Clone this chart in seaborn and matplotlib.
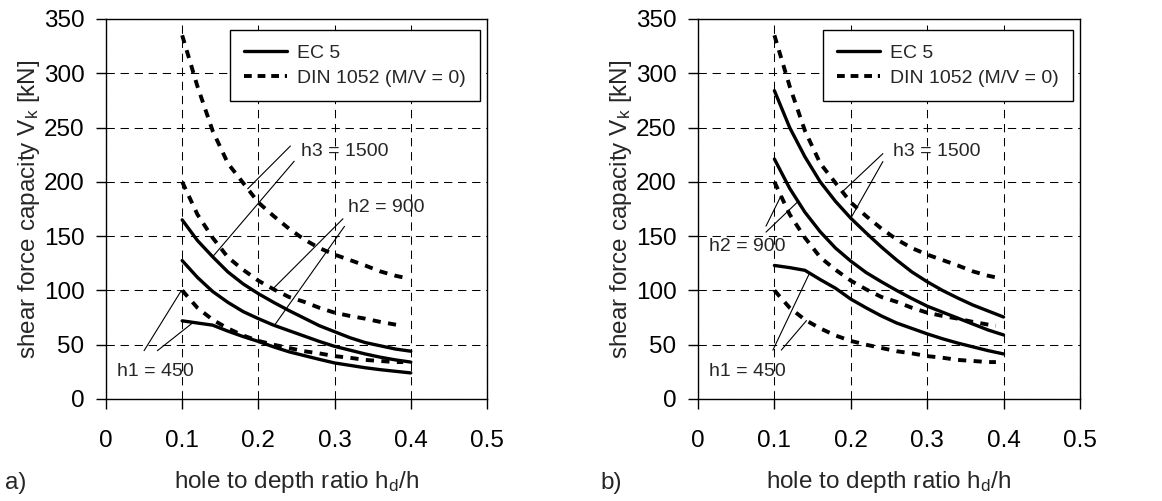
import numpy as np
import pandas as pd
import matplotlib
matplotlib.use("Agg")
import matplotlib.pyplot as plt
from matplotlib.lines import Line2D
import seaborn as sns

sns.set_style("ticks")
plt.rcParams['font.family'] = ['Liberation Sans', 'DejaVu Sans']
plt.rcParams['mathtext.fontset'] = 'custom'
plt.rcParams['mathtext.rm'] = 'Liberation Sans'
plt.rcParams['mathtext.default'] = 'regular'

# ---------------- data ----------------
x_ec5 = [0.10, 0.12, 0.14, 0.16, 0.18, 0.20, 0.22, 0.24, 0.26, 0.28,
         0.30, 0.32, 0.34, 0.36, 0.38, 0.40]
x_din = [0.10, 0.12, 0.14, 0.16, 0.18, 0.20, 0.22, 0.24, 0.26, 0.28,
         0.30, 0.32, 0.34, 0.36, 0.38, 0.39]

# panel a) EC 5
ec5_a_h1 = [72, 70, 68, 62.5, 57.5, 53, 48, 43.5, 40, 36.5, 33.2, 31, 28.8, 27, 25.5, 24]
ec5_a_h2 = [127.5, 112, 99, 89, 80.5, 74, 68, 63, 58, 53, 48.5, 45, 41.5, 38.5, 36, 34]
ec5_a_h3 = [165, 146, 131, 117, 106, 97, 89, 81.5, 74.5, 67.5, 62, 56.5, 52, 49, 46, 44]
# panel b) EC 5
ec5_b_h1 = [123, 121, 118.5, 110, 102, 92, 84, 76.5, 70, 65, 60, 55.5, 51.5, 48, 44.5, 41.5]
ec5_b_h2 = [221, 194, 172, 154, 139, 127, 116.5, 108, 100, 92.5, 85.5, 80, 74.5, 69, 63.5, 59]
ec5_b_h3 = [284, 250, 223, 200, 182, 166.5, 153, 140, 128, 117, 108, 100, 93, 86.5, 81, 75.5]
# DIN 1052 (M/V = 0), same in both panels
din_h1 = [100, 84, 73, 65, 58.5, 53.5, 50, 47, 44, 42, 39.5, 38, 36, 35, 34, 34]
din_h2 = [200, 170, 148.5, 130.5, 119, 109, 101, 94, 89.5, 84, 79.5, 76.5, 74, 71, 68.5, 67.5]
din_h3 = [335, 288, 247, 217, 199, 181, 168.5, 157, 147, 139, 133, 128, 123, 117.5, 113.5, 112]

x_ticks = [0, 0.1, 0.2, 0.3, 0.4, 0.5]
x_ticklabels = ['0', '0.1', '0.2', '0.3', '0.4', '0.5']
y_ticks = [0, 50, 100, 150, 200, 250, 300, 350]

legend_labels = ['EC 5', 'DIN 1052 (M/V = 0)']
label_h1 = 'h1 = 450'
label_h2 = 'h2 = 900'
label_h3 = 'h3 = 1500'
panel_labels = ['a)', 'b)']

# ---------------- figure ----------------
fig = plt.figure(figsize=(11.62, 5.01), dpi=100)
ax_a = fig.add_axes([0.0912, 0.2036, 0.3279, 0.7585])
ax_b = fig.add_axes([0.6007, 0.2036, 0.3287, 0.7585])

TICK_FS = 17.5
LAB_FS = 17.5
ANN_FS = 14
LEG_FS = 14
LW_SOLID = 2.4
LW_DASH = 2.8
DIN_DASH = (0, (2.1, 1.9))


def draw_panel(ax, ec5_curves, din_curves):
    for yv in ec5_curves:
        df = pd.DataFrame({'x': x_ec5, 'y': yv})
        sns.lineplot(data=df, x='x', y='y', ax=ax, color='black', lw=LW_SOLID,
                     sort=True, legend=False)
    for yv in din_curves:
        df = pd.DataFrame({'x': x_din, 'y': yv})
        sns.lineplot(data=df, x='x', y='y', ax=ax, color='black', lw=LW_DASH,
                     linestyle=DIN_DASH, sort=True, legend=False)
    ax.set_xlim(0, 0.5)
    ax.set_ylim(0, 350)
    ax.set_xticks(x_ticks)
    ax.set_xticklabels(x_ticklabels)
    ax.set_yticks(y_ticks)
    ax.grid(True, color='black', lw=0.75, linestyle=(0, (8, 5.5)))
    ax.set_axisbelow(True)
    for s in ax.spines.values():
        s.set_visible(True)
        s.set_color('black')
        s.set_linewidth(1.0)
    ax.tick_params(axis='x', direction='out', length=7, width=1.0,
                   labelsize=TICK_FS, pad=15, colors='black')
    ax.tick_params(axis='y', direction='out', length=7, width=1.0,
                   labelsize=TICK_FS, pad=8.5, colors='black')
    ax.set_xlabel('hole to depth ratio h$_\\mathregular{d}$/h', fontsize=LAB_FS)
    ax.set_ylabel('shear force capacity V$_\\mathregular{k}$ [kN]', fontsize=LAB_FS)
    ax.xaxis.set_label_coords(0.5, -0.184)
    ax.yaxis.set_label_coords(-0.168, 0.5)
    handles = [Line2D([], [], color='black', lw=LW_SOLID),
               Line2D([], [], color='black', lw=LW_DASH, linestyle=(0, (2.0, 1.5)))]
    leg = ax.legend(handles, legend_labels, loc='upper right',
                    bbox_to_anchor=(0.982, 0.971), fontsize=LEG_FS, frameon=True,
                    fancybox=False, edgecolor='black', framealpha=1,
                    handlelength=2.2, borderpad=0.72, labelspacing=0.4,
                    handletextpad=0.55, borderaxespad=0)
    leg.get_frame().set_linewidth(1.0)


def leader(ax, start, x_end, xs, ys):
    y_end = float(np.interp(x_end, xs, ys))
    ax.annotate('', xy=(x_end, y_end), xytext=start,
                arrowprops=dict(arrowstyle='-', lw=0.8, color='black',
                                shrinkA=0, shrinkB=0))


draw_panel(ax_a, [ec5_a_h1, ec5_a_h2, ec5_a_h3], [din_h1, din_h2, din_h3])
draw_panel(ax_b, [ec5_b_h1, ec5_b_h2, ec5_b_h3], [din_h1, din_h2, din_h3])

# annotations panel a
ax_a.text(0.256, 228, label_h3, fontsize=ANN_FS, va='center', ha='left')
leader(ax_a, (0.242, 233), 0.186, x_din, din_h3)
leader(ax_a, (0.247, 219), 0.14, x_ec5, ec5_a_h3)
ax_a.text(0.317, 176, label_h2, fontsize=ANN_FS, va='center', ha='left')
leader(ax_a, (0.311, 166), 0.219, x_din, din_h2)
leader(ax_a, (0.313, 159), 0.221, x_ec5, ec5_a_h2)
ax_a.text(0.014, 25.5, label_h1, fontsize=ANN_FS, va='center', ha='left')
leader(ax_a, (0.050, 44.5), 0.099, x_din, din_h1)
leader(ax_a, (0.0675, 44.5), 0.1145, x_ec5, ec5_a_h1)

# annotations panel b
ax_b.text(0.255, 228, label_h3, fontsize=ANN_FS, va='center', ha='left')
leader(ax_b, (0.242, 226), 0.189, x_din, din_h3)
leader(ax_b, (0.242, 218.7), 0.200, x_ec5, ec5_b_h3)
ax_b.text(0.014, 140.5, label_h2, fontsize=ANN_FS, va='center', ha='left')
leader(ax_b, (0.089, 159.2), 0.1086, x_din, din_h2)
leader(ax_b, (0.089, 153.7), 0.131, x_ec5, ec5_b_h2)
ax_b.text(0.014, 25.5, label_h1, fontsize=ANN_FS, va='center', ha='left')
leader(ax_b, (0.098, 45), 0.146, x_ec5, ec5_b_h1)
leader(ax_b, (0.109, 45), 0.142, x_din, din_h1)

# panel letters
fig.text(5 / 1162, 1 - 483 / 501, panel_labels[0], fontsize=LAB_FS, va='center', ha='left')
fig.text(600 / 1162, 1 - 483 / 501, panel_labels[1], fontsize=LAB_FS, va='center', ha='left')

fig.savefig('out.png', dpi=100, facecolor='white')
